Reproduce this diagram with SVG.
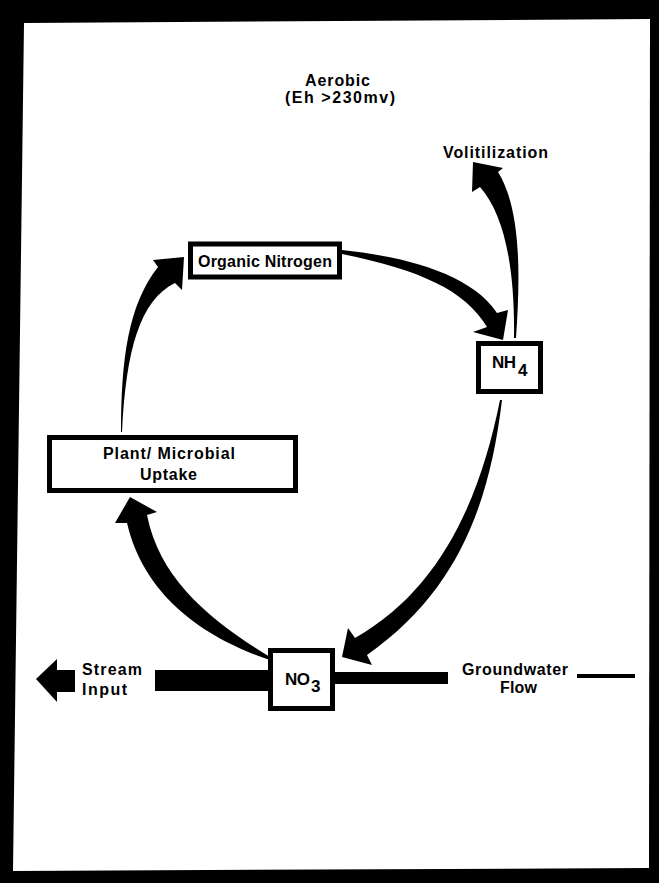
<svg xmlns="http://www.w3.org/2000/svg" width="659" height="883" viewBox="0 0 659 883">
<style>
.box{fill:#fff;stroke:#000;stroke-width:5}
.t{font-family:"Liberation Sans",Arial,sans-serif;font-weight:bold;font-size:16px;fill:#000}
.sub{font-family:"Liberation Sans",Arial,sans-serif;font-weight:bold;font-size:17px;fill:#000}
.arr{fill:#000;stroke:none}
</style>
<rect x="0" y="0" width="659" height="883" fill="#000"/>
<polygon points="24,23 650,19 649,868 13,871" fill="#fff"/>
<g id="labels">
<text class="t" x="305" y="86" textLength="65" lengthAdjust="spacing">Aerobic</text>
<text class="t" x="285" y="103" textLength="110" lengthAdjust="spacing">(Eh &gt;230mv)</text>
<text class="t" x="443" y="158" textLength="105" lengthAdjust="spacing">Volitilization</text>
<text class="t" x="82" y="675" textLength="60" lengthAdjust="spacing">Stream</text>
<text class="t" x="82" y="695" textLength="45" lengthAdjust="spacing">Input</text>
<text class="t" x="462" y="675" textLength="106" lengthAdjust="spacing">Groundwater</text>
<text class="t" x="500" y="693" textLength="37" lengthAdjust="spacing">Flow</text>
</g>
<g id="connectors">
<path class="arr" d="M121,432 C121,360 128,305 158,267 L153,260 L184,257 L182,290 L175,283 C140,300 126,350 122,432 Z"/>
<path class="arr" d="M342,250 C400,256 470,272 497,313 L508,310 L503,340 L473,332 L487,327 C465,290 420,270 342,254 Z"/>
<path class="arr" d="M516,338 C520,280 522,210 498,172 L503,168 L473,162 L472,192 L480,187 C505,215 515,270 514,338 Z"/>
<path class="arr" d="M502,400 C490,500 460,590 367,655 L372,665 L342,657 L348,628 L355,638 C440,590 480,500 500,400 Z"/>
<path class="arr" d="M270,660 C210,640 145,600 127,523 L115,523 L130,497 L157,512 L147,515 C160,580 210,620 270,657 Z"/>
<rect class="arr" x="155" y="670" width="116" height="21"/>
<rect class="arr" x="332" y="672" width="116" height="12"/>
<polygon class="arr" points="36,679 57,659 57,670 75,670 75,692 57,692 57,702"/>
<line x1="577" y1="676" x2="635" y2="676" stroke="#000" stroke-width="4"/>
</g>
<g id="organic-nitrogen">
<rect class="box" x="190.5" y="244" width="149" height="33"/>
<text class="t" x="198" y="267" textLength="134" lengthAdjust="spacing">Organic Nitrogen</text>
</g>
<g id="nh4">
<rect class="box" x="478.5" y="343.5" width="62" height="48"/>
<text class="sub" x="492" y="368" textLength="24" lengthAdjust="spacing">NH</text>
<text class="sub" x="518" y="376">4</text>
</g>
<g id="plant-microbial-uptake">
<rect class="box" x="49.5" y="437.5" width="246" height="53"/>
<text class="t" x="103" y="459" textLength="132" lengthAdjust="spacing">Plant/ Microbial</text>
<text class="t" x="140" y="480" textLength="57" lengthAdjust="spacing">Uptake</text>
</g>
<g id="no3">
<rect class="box" x="270.5" y="650.5" width="62" height="58"/>
<text class="sub" x="285" y="685" textLength="25" lengthAdjust="spacing">NO</text>
<text class="sub" x="311" y="692">3</text>
</g>
</svg>
